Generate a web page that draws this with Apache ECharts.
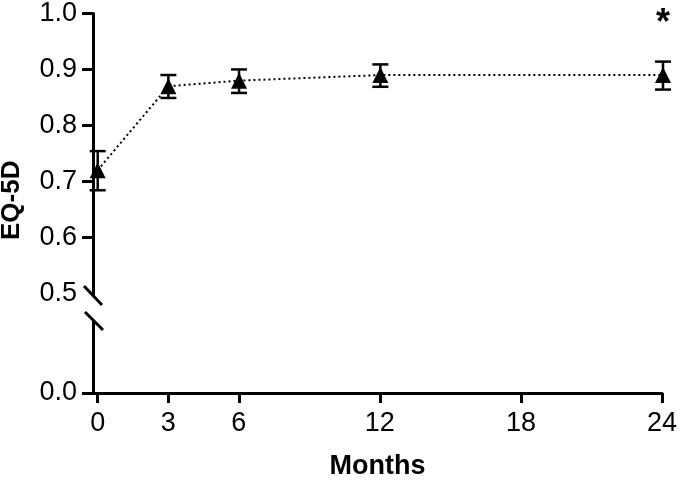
<!DOCTYPE html>
<html>
<head>
<meta charset="utf-8">
<script src="https://cdn.jsdelivr.net/npm/echarts@6/dist/echarts.min.js"></script>
<style>
html,body{margin:0;padding:0;background:#fff;}
#chart{width:680px;height:482px;}
</style>
</head>
<body>
<div id="chart"></div>
<script>
// ---- data ----
const months = [0, 3, 6, 12, 24];
const eq5dMean = [0.72, 0.87, 0.88, 0.89, 0.89];
const eq5dLow = [0.684, 0.849, 0.858, 0.869, 0.864];
const eq5dHigh = [0.754, 0.890, 0.900, 0.909, 0.914];
const xTicks = [0, 3, 6, 12, 18, 24];
const yTicksUpper = [0.5, 0.6, 0.7, 0.8, 0.9, 1.0];
const yTicksLower = [0.0];
const significance = [{ month: 24, text: '*' }];

const FONT = 'Liberation Sans, Arial, Helvetica, sans-serif';
const chart = echarts.init(document.getElementById('chart'), null, { renderer: 'canvas' });

const lineData = months.map((m, i) => [m, eq5dMean[i]]);
const errData = months.map((m, i) => [m, eq5dLow[i], eq5dHigh[i]]);

const axisLineStyle = { color: '#000', width: 3 };

const option = {
  backgroundColor: '#fff',
  animation: false,
  grid: [
    { left: 93, right: 17, top: 13, height: 283 },
    { left: 93, right: 17, top: 321, bottom: 89 }
  ],
  xAxis: [
    { gridIndex: 0, type: 'value', min: -0.2, max: 24, show: false },
    {
      gridIndex: 1, type: 'value', min: -0.2, max: 24,
      axisLine: { show: true, onZero: false, lineStyle: axisLineStyle },
      axisTick: { show: true, length: 10, lineStyle: { color: '#000', width: 3 }, customValues: xTicks },
      axisLabel: { color: '#000', fontSize: 27, fontFamily: FONT, margin: 17, customValues: xTicks },
      splitLine: { show: false },
      name: 'Months', nameLocation: 'middle', nameGap: 60,
      nameTextStyle: { color: '#000', fontSize: 27, fontWeight: 'bold', fontFamily: FONT }
    }
  ],
  yAxis: [
    {
      gridIndex: 0, type: 'value', min: 0.495, max: 1.0,
      axisLine: { show: true, onZero: false, lineStyle: axisLineStyle },
      axisTick: { show: true, length: 11, lineStyle: { color: '#000', width: 3 }, customValues: yTicksUpper.filter(v => v > 0.55) },
      axisLabel: { color: '#000', fontSize: 27, fontFamily: FONT, margin: 16, customValues: yTicksUpper, formatter: v => v.toFixed(1) },
      splitLine: { show: false }
    },
    {
      gridIndex: 1, type: 'value', min: 0, max: 1,
      axisLine: { show: true, onZero: false, lineStyle: axisLineStyle },
      axisTick: { show: true, length: 11, lineStyle: { color: '#000', width: 3 }, customValues: yTicksLower },
      axisLabel: { color: '#000', fontSize: 27, fontFamily: FONT, margin: 16, customValues: yTicksLower, formatter: v => v.toFixed(1) },
      splitLine: { show: false }
    }
  ],
  series: [
    {
      type: 'custom',
      xAxisIndex: 0, yAxisIndex: 0,
      z: 2,
      data: errData,
      renderItem: function (params, api) {
        const x = api.value(0);
        const lo = api.coord([x, api.value(1)]);
        const hi = api.coord([x, api.value(2)]);
        const hw = 8;
        const st = { stroke: '#000', lineWidth: 2.5 };
        return {
          type: 'group',
          children: [
            { type: 'line', shape: { x1: lo[0], y1: lo[1], x2: hi[0], y2: hi[1] }, style: st },
            { type: 'line', shape: { x1: lo[0] - hw, y1: lo[1], x2: lo[0] + hw, y2: lo[1] }, style: st },
            { type: 'line', shape: { x1: hi[0] - hw, y1: hi[1], x2: hi[0] + hw, y2: hi[1] }, style: st }
          ]
        };
      }
    },
    {
      type: 'line',
      xAxisIndex: 0, yAxisIndex: 0,
      z: 3,
      data: lineData,
      symbol: 'triangle',
      symbolSize: 16,
      itemStyle: { color: '#000' },
      lineStyle: { color: '#000', width: 2, type: [2, 3] }
    }
  ]
};

chart.setOption(option);

// axis-break slashes, EQ-5D title and significance marker
const pUp = chart.convertToPixel({ gridIndex: 0 }, [-0.2, 0.495]);
const pLo = chart.convertToPixel({ gridIndex: 1 }, [-0.2, 1]);
const pTop = chart.convertToPixel({ gridIndex: 0 }, [-0.2, 1.0]);
const pZero = chart.convertToPixel({ gridIndex: 1 }, [-0.2, 0]);
const graphics = [
  { type: 'line', shape: { x1: pUp[0] - 9, y1: pUp[1] - 10, x2: pUp[0] + 9, y2: pUp[1] + 9 }, style: { stroke: '#000', lineWidth: 3 } },
  { type: 'line', shape: { x1: pLo[0] - 8, y1: pLo[1] - 9, x2: pLo[0] + 10, y2: pLo[1] + 9 }, style: { stroke: '#000', lineWidth: 3 } },
  {
    type: 'text', x: 12, y: (pTop[1] + pZero[1]) / 2 - 3, rotation: Math.PI / 2,
    style: { text: 'EQ-5D', align: 'center', verticalAlign: 'middle', font: 'bold 26px ' + FONT, fill: '#000' }
  }
];
significance.forEach(s => {
  const p = chart.convertToPixel({ gridIndex: 0 }, [s.month, 1.0]);
  graphics.push({
    type: 'text', x: p[0], y: p[1] + 11,
    style: { text: s.text, align: 'center', verticalAlign: 'middle', font: 'bold 36px ' + FONT, fill: '#000' }
  });
});
chart.setOption({ graphic: graphics });
</script>
</body>
</html>
